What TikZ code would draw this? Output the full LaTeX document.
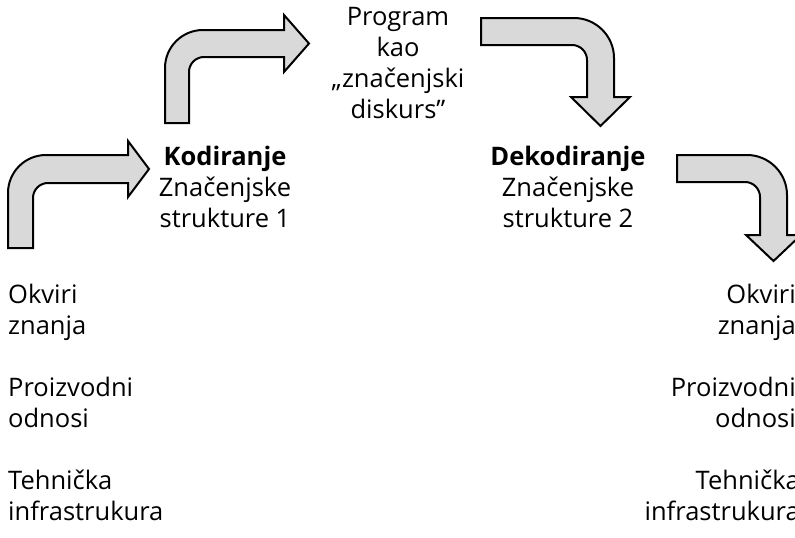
\documentclass[tikz,border=0pt]{standalone}
\usepackage{fontspec}
\setmainfont{Open Sans}
\usetikzlibrary{positioning}

\begin{document}
\begin{tikzpicture}[x=1pt,y=-1pt,bent/.style={draw=black,line width=2pt,fill=black!15,line join=miter},txt/.style={inner sep=0pt,font=\fontsize{25.5}{31}\selectfont}]
	\useasboundingbox (0,0) rectangle (795,538);
	\clip (0,0) rectangle (795,538);

	% bent arrows
	\draw[bent] (8,248) -- (8,193) .. controls (8,172) and (25,155) .. (46,155) -- (128,155) -- (128,141) -- (149,169) -- (128,197) -- (128,183) -- (48,183) .. controls (39.7,183) and (33,189.7) .. (33,198) -- (33,248) -- cycle;
	\draw[bent] (165,123) -- (165,68) .. controls (165,47) and (182,30) .. (203,30) -- (284,30) -- (284,15) -- (309,43.5) -- (284,72) -- (284,57) -- (204,57) .. controls (195.7,57) and (189,63.7) .. (189,72) -- (189,123) -- cycle;
	\draw[bent] (481,18) -- (574,18) .. controls (596,18) and (614,36) .. (614,58) -- (614,97) -- (630,97) -- (600.5,126) -- (571,97) -- (587,97) -- (587,60) .. controls (587,51.7) and (580.3,45) .. (572,45) -- (481,45) -- cycle;
	\draw[bent] (677,155) -- (747,155) .. controls (769,155) and (787,173) .. (787,195) -- (787,235) -- (801,235) -- (773.5,261) -- (746,235) -- (760,235) -- (760,197) .. controls (760,188.7) and (753.3,182) .. (745,182) -- (677,182) -- cycle;

	\node[txt,anchor=north,align=center]	(program)	at (398,7)		{Program\\kao\\„značenjski\\diskurs”};
	\node[txt,anchor=north,align=center]	(kod)		at (225,146)	{\textbf{Kodiranje}\\Značenjske\\strukture 1};
	\node[txt,anchor=north,align=center]	(dekod)		at (568,146)	{\textbf{Dekodiranje}\\Značenjske\\strukture 2};

	\node[txt,anchor=north west,align=left]	(okviriL)	at (8,284)		{Okviri\\znanja};
	\node[txt,anchor=north west,align=left]	(odnosiL)	at (8,377)		{Proizvodni\\odnosi};
	\node[txt,anchor=north west,align=left]	(tehL)		at (8,470)		{Tehnička\\infrastrukura};

	\node[txt,anchor=north east,align=right]	(okviriR)	at (796,284)	{Okviri\\znanja};
	\node[txt,anchor=north east,align=right]	(odnosiR)	at (796,377)	{Proizvodni\\odnosi};
	\node[txt,anchor=north east,align=right]	(tehR)		at (800,470)	{Tehnička\\infrastrukura};
\end{tikzpicture}
\end{document}
